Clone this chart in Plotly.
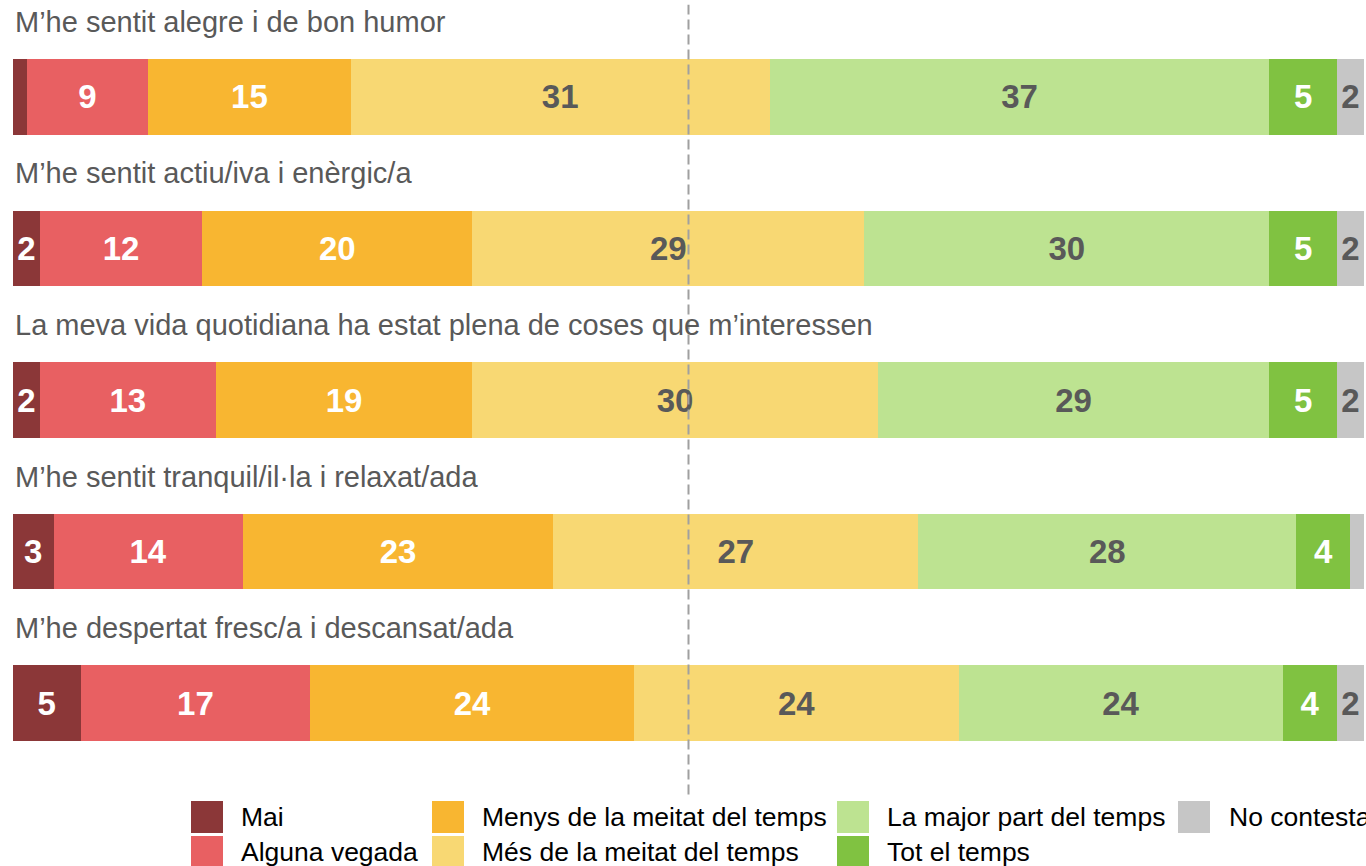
import plotly.graph_objects as go

# Survey items (top to bottom) and answer categories
items = [
    "M\u2019he sentit alegre i de bon humor",
    "M\u2019he sentit actiu/iva i en\u00e8rgic/a",
    "La meva vida quotidiana ha estat plena de coses que m\u2019interessen",
    "M\u2019he sentit tranquil/il\u00b7la i relaxat/ada",
    "M\u2019he despertat fresc/a i descansat/ada",
]
categories = [
    "Mai",
    "Alguna vegada",
    "Menys de la meitat del temps",
    "M\u00e9s de la meitat del temps",
    "La major part del temps",
    "Tot el temps",
    "No contesta",
]

# Percentage per category, one list per category, items in the order above
mai = [1, 2, 2, 3, 5]
alguna_vegada = [9, 12, 13, 14, 17]
menys_meitat = [15, 20, 19, 23, 24]
mes_meitat = [31, 29, 30, 27, 24]
major_part = [37, 30, 29, 28, 24]
tot_temps = [5, 5, 5, 4, 4]
no_contesta = [2, 2, 2, 1, 2]
series = [mai, alguna_vegada, menys_meitat, mes_meitat, major_part, tot_temps, no_contesta]

colors = ["#8B3738", "#E86062", "#F8B631", "#F8D873", "#BDE391", "#80C241", "#C6C6C6"]
text_colors = ["white", "white", "white", "#595959", "#595959", "white", "#595959"]

# Values too small to carry a label
MIN_LABEL = 2

W, H = 1366, 866
ML, MR, MT, MB = 13, 2, 0, 69
PW, PH = W - ML - MR, H - MT - MB

ypos = list(range(len(items) - 1, -1, -1))

fig = go.Figure()
for cat, vals, col, tcol in zip(categories, series, colors, text_colors):
    fig.add_trace(go.Bar(
        x=vals,
        y=ypos,
        orientation="h",
        name=cat,
        marker=dict(color=col, line=dict(width=0)),
        text=[str(v) if v >= MIN_LABEL else "" for v in vals],
        textposition="inside",
        insidetextanchor="middle",
        textangle=0,
        constraintext="none",
        textfont=dict(family="Liberation Sans, Arial", size=33, color=tcol, weight="bold"),
        width=0.5,
        showlegend=False,
        hoverinfo="skip",
    ))

# Item titles above each bar
for label, y in zip(items, ypos):
    fig.add_annotation(
        x=0, y=y + 0.495, xref="x", yref="y",
        text=label, showarrow=False, xanchor="left", yanchor="middle",
        font=dict(family="Liberation Sans, Arial", size=29, color="#595959"),
    )

# Midpoint reference line
fig.add_shape(
    type="line", x0=50, x1=50, xref="x", y0=0.003, y1=0.994, yref="paper",
    line=dict(color="#A0A0A0", width=2, dash="10px,5px"), layer="above",
)


def px_x(px):
    return (px - ML) / PW


def px_y(py):
    return (H - MB - py) / PH


# Legend laid out column by column
legend_cols = [(191, 239), (432, 480), (837, 885), (1178, 1227)]
legend_rows = [(801, 833), (836, 868)]
for i, (cat, col) in enumerate(zip(categories, colors)):
    c, r = divmod(i, 2)
    sx, tx = legend_cols[c]
    y0, y1 = legend_rows[r]
    fig.add_shape(
        type="rect", xref="paper", yref="paper",
        x0=px_x(sx), x1=px_x(sx + 32), y0=px_y(y1), y1=px_y(y0),
        fillcolor=col, line=dict(width=0),
    )
    fig.add_annotation(
        x=px_x(tx), y=px_y((y0 + y1) / 2), xref="paper", yref="paper",
        text=cat, showarrow=False, xanchor="left", yanchor="middle",
        font=dict(family="Liberation Sans, Arial", size=26.5, color="black"),
    )

fig.update_layout(
    barmode="stack",
    width=W, height=H,
    margin=dict(l=ML, r=MR, t=MT, b=MB, pad=0),
    paper_bgcolor="white", plot_bgcolor="white",
    xaxis=dict(range=[0, 100], visible=False, fixedrange=True),
    yaxis=dict(range=[-0.62, 4.64], visible=False, fixedrange=True),
    bargap=0.5,
)

fig.write_html("out.html", config={"displayModeBar": False})
